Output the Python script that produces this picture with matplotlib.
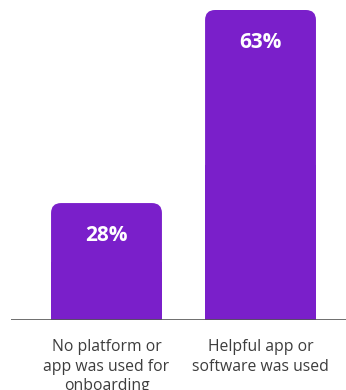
import matplotlib
matplotlib.use("Agg")
import matplotlib.pyplot as plt
from matplotlib.patches import FancyBboxPatch

categories = ["No platform or\napp was used for\nonboarding", "Helpful app or\nsoftware was used"]
values = [28, 63]
value_labels = ["28%", "63%"]

BAR_COLOR = "#7a1fca"
TEXT_COLOR = "#3d3d3d"
Y_MIN, Y_MAX = 6.8, 63

fig = plt.figure(figsize=(3.46, 3.90), dpi=100)
ax = fig.add_axes([11 / 346, 70 / 390, 335 / 346, 310 / 390])
ax.set_xlim(-0.62, 1.555)
ax.set_ylim(Y_MIN, Y_MAX)
ax.axis("off")

# data units per pixel, so the corner radius comes out round
x_per_px = (1.555 + 0.62) / 335
y_per_px = (Y_MAX - Y_MIN) / 310

width = 0.72
x = list(range(len(values)))
bars = ax.bar(x, values, width=width, color=BAR_COLOR, alpha=0)

# rounded tops: a rounded box for the whole bar, a plain rectangle squares off the bottom
for bar, val in zip(bars, values):
    x0 = bar.get_x()
    w = bar.get_width()
    ax.add_patch(FancyBboxPatch((x0, Y_MIN), w, val - Y_MIN,
                                boxstyle=f"round,pad=0,rounding_size={10 * x_per_px}",
                                mutation_aspect=y_per_px / x_per_px,
                                facecolor=BAR_COLOR, edgecolor="none", zorder=2))
    ax.add_patch(plt.Rectangle((x0, Y_MIN), w, (val - Y_MIN) * 0.5,
                               facecolor=BAR_COLOR, edgecolor="none", zorder=2))

ax.axhline(Y_MIN, color="#555555", lw=1.2, zorder=3)

for xi, val, lab in zip(x, values, value_labels):
    ax.annotate(lab, (xi, val), xytext=(0, -23.5), textcoords="offset points",
                ha="center", va="center", color="white", fontsize=15,
                fontweight="bold", family="Open Sans", zorder=4)

for xi, cat in zip(x, categories):
    ax.annotate(cat, (xi, Y_MIN), xytext=(0, -14), textcoords="offset points",
                ha="center", va="top", color=TEXT_COLOR, fontsize=11.3,
                family="Open Sans", linespacing=1.28, annotation_clip=False)

fig.savefig("out.png", dpi=100)
